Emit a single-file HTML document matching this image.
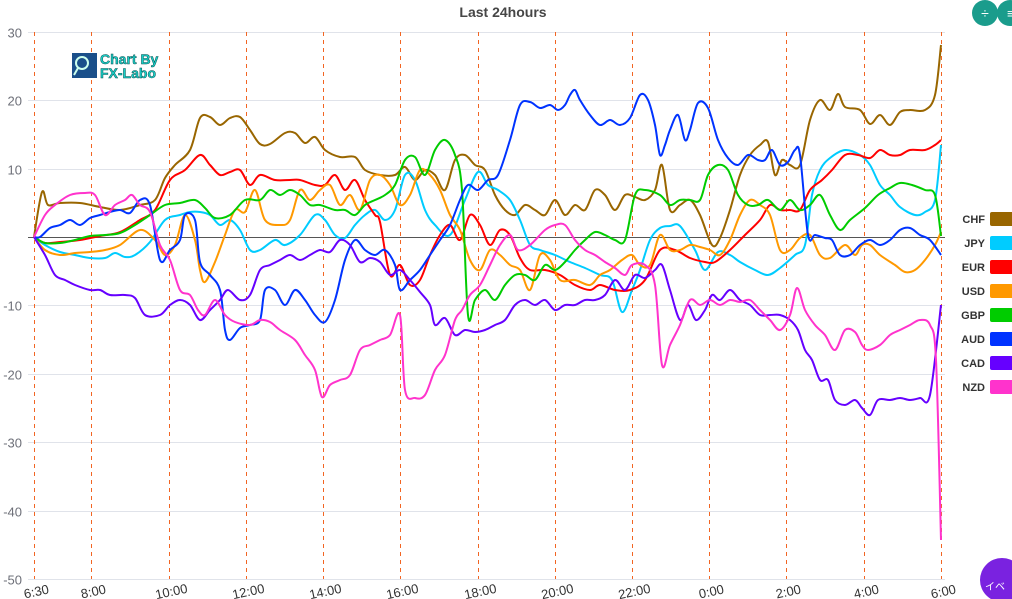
<!DOCTYPE html>
<html><head><meta charset="utf-8"><style>
body{margin:0;background:#fff;width:1012px;height:599px;overflow:hidden;font-family:"Liberation Sans","Noto Sans CJK JP",sans-serif}
</style></head><body>
<svg id="s" width="1012" height="599" xmlns="http://www.w3.org/2000/svg" style="position:absolute;left:0;top:0">
<text x="503" y="17" text-anchor="middle" font-size="14" font-weight="bold" fill="#464646">Last 24hours</text>
<g id="grid" shape-rendering="crispEdges"></g>
<g id="lines" fill="none" stroke-width="2" stroke-linejoin="round"></g>
<g id="leg" font-size="11" font-weight="bold" fill="#333"></g>
<g>
<rect x="72" y="53" width="25" height="25" fill="#1a4f8a"/>
<circle cx="82" cy="63" r="6" fill="none" stroke="#cfe" stroke-width="2"/>
<line x1="78" y1="68" x2="74" y2="75" stroke="#cfe" stroke-width="2"/>
<text x="100" y="64" font-size="14" font-weight="bold" fill="#19d0c8" stroke="#0a5050" stroke-width="0.5">Chart By</text>
<text x="100" y="78" font-size="14" font-weight="bold" fill="#19d0c8" stroke="#0a5050" stroke-width="0.5">FX-Labo</text>
</g>
<circle cx="985" cy="13" r="13" fill="#1a9c8c"/><text x="985" y="18" text-anchor="middle" font-size="14" fill="#fff">÷</text>
<circle cx="1010" cy="13" r="13" fill="#1a9c8c"/><text x="1007" y="18" font-size="13" fill="#fff">≡</text>
<circle cx="1002" cy="580" r="22" fill="#7a22e0"/><text x="985" y="590" font-size="10" fill="#fff">イベ</text>
</svg>
<script>
var ns="http://www.w3.org/2000/svg",g=document.getElementById('grid');
function el(t,a,p,txt){var e=document.createElementNS(ns,t);for(var k in a)e.setAttribute(k,a[k]);if(txt)e.textContent=txt;p.appendChild(e);return e;}
for(var v=30;v>=-50;v-=10){var y=Math.round(237-6.84*v)+0.5;el('line',{x1:28,x2:945,y1:y,y2:y,stroke:v==0?'#555':'#e0e3ea','stroke-width':1},g);
el('text',{x:22,y:y+5,'text-anchor':'end','font-size':13,fill:'#6e7079'},g,v);}
var xs=[34,91,169,246,323,400,478,555,632,709,786,864,941],lb=['6:30','8:00','10:00','12:00','14:00','16:00','18:00','20:00','22:00','0:00','2:00','4:00','6:00'];
xs.forEach(function(x,i){el('line',{x1:x+0.5,x2:x+0.5,y1:32,y2:579,stroke:'#f26522','stroke-width':1,'stroke-dasharray':'4,4'},g);
el('text',{x:x+2,y:596,'text-anchor':'middle','font-size':13,fill:'#333',transform:'rotate(-12 '+(x+2)+' 590)'},g,lb[i]);});
var D={
'#996600':"34,237 42,192 48,205 60,203 80,203 100,207 120,210 140,205 155,200 165,178 175,165 190,150 200,118 210,117 220,125 230,118 240,117 250,130 260,144 270,144 285,133 295,133 305,143 315,137 325,150 340,157 355,157 365,170 380,175 395,175 405,167 415,180 425,170 435,175 445,190 455,160 465,155 475,165 485,170 495,195 505,210 515,215 525,205 535,210 545,215 555,200 565,215 575,205 585,210 595,190 605,195 615,210 625,195 635,197 645,200 655,190 662,165 670,210 680,205 690,200 700,215 712,245 720,238 730,210 740,175 750,155 760,145 768,142 775,175 782,160 790,165 800,165 810,120 820,100 830,110 838,94 845,107 860,110 870,124 880,115 890,125 900,112 910,110 925,110 935,95 941,45",
'#00ccff':"34,237 45,245 60,252 75,255 90,258 105,258 115,253 125,257 135,255 150,242 165,220 180,215 190,212 200,212 210,215 220,225 230,220 240,230 250,250 260,250 275,240 285,245 300,235 315,215 325,220 335,235 345,238 355,225 365,215 375,210 385,220 395,210 405,175 415,180 425,210 435,225 450,235 465,200 478,172 488,185 498,190 510,200 520,220 530,245 540,250 555,255 570,262 585,268 600,275 612,280 622,312 632,290 640,270 650,240 660,228 670,226 680,226 695,250 705,270 718,252 730,255 740,262 755,270 768,275 780,268 795,255 805,245 812,195 820,170 830,158 845,150 860,155 870,165 880,185 890,195 900,207 915,215 925,212 935,200 941,145",
'#ff0000':"34,237 45,243 60,242 80,240 100,236 120,232 140,220 155,210 170,180 185,170 200,155 210,165 220,175 230,172 240,170 250,185 260,175 275,180 290,180 300,180 315,185 325,185 335,175 345,190 355,180 365,200 375,215 380,222 390,275 400,265 410,285 420,280 430,255 440,235 450,225 460,240 470,215 480,225 490,245 500,230 510,235 520,258 530,270 545,270 560,275 575,285 590,290 600,285 615,290 630,290 645,280 660,250 675,250 690,258 705,262 715,262 730,250 745,235 760,220 770,205 780,210 790,210 800,210 810,190 822,180 832,170 845,155 858,155 870,158 880,150 890,155 900,155 910,150 925,150 935,145 941,140",
'#ff9900':"34,237 45,250 60,255 75,253 90,252 105,250 120,245 140,230 155,240 165,255 175,245 185,215 195,240 200,270 205,282 215,262 225,235 235,210 245,212 255,190 265,220 280,225 290,220 300,190 310,200 320,190 330,185 340,205 350,195 360,210 370,180 380,175 390,185 400,205 410,195 420,170 430,175 440,190 450,215 460,230 470,260 480,270 490,250 500,255 510,265 520,270 530,290 540,255 550,260 560,280 575,280 590,285 600,275 610,270 622,260 632,255 640,265 650,265 660,235 670,250 680,250 690,245 700,247 710,250 720,255 730,240 740,215 750,200 760,205 770,215 780,250 790,250 800,238 810,235 820,255 830,258 845,245 855,255 862,245 870,245 880,255 895,265 905,272 915,270 925,260 935,245 941,232",
'#00cc00':"34,237 45,243 60,243 75,240 90,236 105,235 120,233 135,225 150,215 165,205 180,203 195,200 205,208 215,218 230,215 245,200 260,200 270,190 280,195 290,190 300,195 310,205 320,205 335,210 345,210 355,215 365,205 375,200 385,195 395,185 405,160 415,157 425,175 435,150 445,140 455,155 462,190 468,315 475,300 485,290 495,300 505,285 515,275 525,275 535,280 545,265 555,270 565,262 575,250 585,240 595,232 605,235 615,240 625,240 635,195 645,190 660,195 670,205 680,200 690,200 700,200 708,175 718,165 728,170 738,195 748,205 758,205 768,200 780,210 790,200 800,210 810,205 820,195 830,215 840,230 850,220 865,208 878,195 890,188 900,183 912,185 925,190 935,195 941,236",
'#0033ff':"34,237 40,237 50,228 60,225 70,220 80,225 90,218 100,215 110,212 120,210 130,213 140,200 150,205 160,260 170,250 180,240 185,215 195,220 200,262 210,275 220,290 225,330 230,340 240,328 250,325 260,320 265,290 275,290 285,305 295,290 305,300 315,315 325,322 335,300 345,260 355,240 365,250 375,255 385,250 395,265 400,290 410,280 420,270 430,255 440,240 450,225 460,200 468,185 478,190 488,180 498,175 510,140 520,105 530,102 540,108 550,105 558,110 565,105 570,95 575,90 580,100 590,115 600,125 610,120 620,125 630,118 640,95 648,100 655,125 660,155 665,145 670,130 678,115 685,140 690,130 698,103 708,108 718,140 728,158 738,165 748,155 758,160 765,160 772,150 780,165 788,162 795,150 800,155 808,235 815,235 825,238 832,240 840,255 850,255 860,245 870,240 880,245 890,240 900,230 910,228 920,235 930,240 941,255",
'#6600ff':"34,237 45,255 55,275 65,280 75,285 90,290 100,290 110,295 125,295 135,298 145,315 160,315 170,305 180,300 190,305 200,320 210,310 220,300 228,290 240,300 250,295 260,270 270,265 280,260 290,255 300,260 310,255 320,250 330,252 340,240 350,245 360,262 370,258 380,262 390,275 400,270 410,280 420,292 430,305 435,325 445,318 455,335 465,330 475,332 485,330 495,325 505,320 515,305 525,300 535,305 545,300 555,310 565,305 575,305 585,300 595,300 605,295 615,280 625,290 635,275 645,278 655,270 662,265 670,290 680,320 688,305 696,320 705,310 712,295 720,300 730,290 740,300 750,305 760,315 770,315 780,315 790,320 798,330 805,350 812,360 820,380 828,380 835,400 845,405 855,400 862,408 870,415 878,400 890,400 900,398 910,400 920,398 930,395 941,305",
'#ff33cc':"34,237 45,215 55,205 70,195 85,193 95,195 105,215 115,205 125,200 132,195 140,205 150,212 160,245 170,260 180,290 190,295 198,310 205,315 215,300 225,315 235,322 250,325 260,320 270,322 280,330 295,340 305,355 315,370 322,397 330,385 340,380 350,375 360,350 370,345 380,340 390,335 400,315 405,390 415,398 425,395 435,370 445,355 455,320 462,310 470,295 480,285 490,265 500,245 510,235 518,250 530,245 545,230 555,225 565,225 575,240 585,250 595,255 605,262 615,268 625,275 632,265 645,265 655,285 662,365 670,345 680,325 690,300 700,305 710,300 720,305 730,300 740,302 750,300 760,310 770,320 780,330 790,315 797,288 805,310 815,325 825,335 835,350 845,330 855,332 862,345 868,350 880,345 890,335 900,330 910,325 920,320 930,325 936,360 941,540"};
var L=document.getElementById('lines');
for(var c in D){var p=D[c].split(' ').map(function(s){return s.split(',').map(Number)});
var d='M'+p[0][0]+','+p[0][1];
for(var i=0;i<p.length-1;i++){var p0=p[i-1]||p[i],p1=p[i],p2=p[i+1],p3=p[i+2]||p2,t=0.5/3;
d+=' C'+(p1[0]+(p2[0]-p0[0])*t)+','+(p1[1]+(p2[1]-p0[1])*t)+' '+(p2[0]-(p3[0]-p1[0])*t)+','+(p2[1]-(p3[1]-p1[1])*t)+' '+p2[0]+','+p2[1];}
el('path',{d:d,stroke:c},L);}
var names=['CHF','JPY','EUR','USD','GBP','AUD','CAD','NZD'],cols=Object.keys(D),lg=document.getElementById('leg');
names.forEach(function(n,i){var y=219+i*24;el('text',{x:985,y:y+4,'text-anchor':'end'},lg,n);el('rect',{x:990,y:y-7,width:24,height:14,rx:2,fill:cols[i]},lg);});
</script>
</body></html>
